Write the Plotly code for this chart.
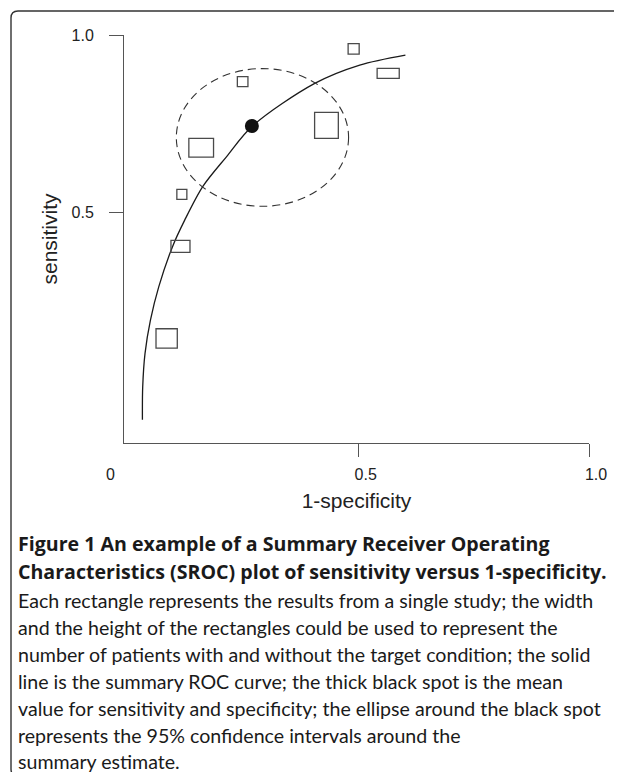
import plotly.graph_objects as go

# ---------------- data ----------------
# individual studies: centre (1-specificity, sensitivity) and box size
study_fpr = [0.489, 0.564, 0.248, 0.430, 0.158, 0.116, 0.113, 0.083]
study_sens = [0.961, 0.892, 0.869, 0.746, 0.683, 0.552, 0.406, 0.147]
study_w = [0.024, 0.048, 0.023, 0.0515, 0.0536, 0.0217, 0.0413, 0.0462]
study_h = [0.030, 0.028, 0.028, 0.0732, 0.0526, 0.0281, 0.0338, 0.0543]

# summary ROC curve
sroc_fpr = [0.0304, 0.0310, 0.0360, 0.0478, 0.0658, 0.0955, 0.1222, 0.1620,
            0.2128, 0.2692, 0.4045, 0.5022, 0.6014]
sroc_sens = [-0.0813, 0.0104, 0.1044, 0.1981, 0.2918, 0.4043, 0.4795, 0.5751,
             0.6576, 0.7440, 0.8641, 0.9156, 0.9437]

# summary point and 95% confidence ellipse
mean_fpr = [0.268]
mean_sens = [0.744]
ell_center = [0.291, 0.712]
ell_semi = [0.187, 0.1936]

x_tickvals = [0.5, 1.0]
x_ticktext = ["0.5", "1.0"]
y_tickvals = [0.5, 1.0]
y_ticktext = ["0.5", "1.0"]

caption_bold = [
    "Figure 1 An example of a Summary Receiver Operating",
    "Characteristics (SROC) plot of sensitivity versus 1-specificity.",
]
caption_lines = [
    "Each rectangle represents the results from a single study; the width",
    "and the height of the rectangles could be used to represent the",
    "number of patients with and without the target condition; the solid",
    "line is the summary ROC curve; the thick black spot is the mean",
    "value for sensitivity and specificity; the ellipse around the black spot",
    "represents the 95% confidence intervals around the",
    "summary estimate.",
]

# ---------------- layout geometry ----------------
OFF = 8                      # page offset of the figure (body margin)
W, H = 622 - OFF, 772 - OFF  # figure size
L, R, T, B = 124 - OFF, 33, 35 - OFF, 329
PW, PH = W - L - R, H - T - B


def px(xp):
    """page pixel x -> paper coordinate"""
    return (xp - OFF - L) / PW


def py(yp):
    """page pixel y -> paper coordinate"""
    return (H - B - (yp - OFF)) / PH


AX = "#555555"
TXT = "#222222"
SANS = "Liberation Sans, Arial, sans-serif"
TICKFONT = dict(family=SANS, size=16, color=TXT)
CAPFONT = "Lato, Noto Sans, sans-serif"
BOLDFONT = "Open Sans, Noto Sans, sans-serif"

fig = go.Figure()

# SROC curve
fig.add_trace(go.Scatter(
    x=sroc_fpr, y=sroc_sens, mode="lines",
    line=dict(color="#1a1a1a", width=1.3, shape="spline", smoothing=0.9),
    hoverinfo="skip", showlegend=False,
))

# summary point
fig.add_trace(go.Scatter(
    x=mean_fpr, y=mean_sens, mode="markers",
    marker=dict(size=14, color="#111111", line=dict(width=0)),
    showlegend=False,
))

shapes = []
# study rectangles
for cx, cy, w, h in zip(study_fpr, study_sens, study_w, study_h):
    shapes.append(dict(
        type="rect", xref="x", yref="y",
        x0=cx - w / 2, x1=cx + w / 2, y0=cy - h / 2, y1=cy + h / 2,
        line=dict(color="#4a4a4a", width=1.3), fillcolor="rgba(0,0,0,0)",
    ))

# confidence ellipse
shapes.append(dict(
    type="circle", xref="x", yref="y",
    x0=ell_center[0] - ell_semi[0], x1=ell_center[0] + ell_semi[0],
    y0=ell_center[1] - ell_semi[1], y1=ell_center[1] + ell_semi[1],
    line=dict(color="#333333", width=1.1, dash="8px,5px"),
))

# outer frame (rounded left corners, open to the right and bottom)
r = 7
xl, yt, yb, xr = 11, 11, 776, 640
path = (
    f"M {px(xr)},{py(yt)} L {px(xl + r)},{py(yt)} "
    f"Q {px(xl)},{py(yt)} {px(xl)},{py(yt + r)} "
    f"L {px(xl)},{py(yb - r)} "
    f"Q {px(xl)},{py(yb)} {px(xl + r)},{py(yb)}"
)
shapes.append(dict(type="path", xref="paper", yref="paper", path=path,
                   line=dict(color="#333333", width=1.4)))

annotations = []
# "0" label at the origin corner
annotations.append(dict(
    x=px(110), y=py(474), xref="paper", yref="paper", text="0",
    showarrow=False, font=TICKFONT, xanchor="center", yanchor="middle",
))

# caption lines
cap_y_bold = [543, 571]
cap_y = [600, 627, 654, 681, 708, 735, 761]
for txt, yy in zip(caption_bold, cap_y_bold):
    annotations.append(dict(
        x=px(16), y=py(yy), xref="paper", yref="paper",
        text=f"<b>{txt}</b>", showarrow=False,
        font=dict(family=BOLDFONT, size=19.6, color="#1a1a1a"),
        xanchor="left", yanchor="middle",
    ))
for txt, yy in zip(caption_lines, cap_y):
    annotations.append(dict(
        x=px(16), y=py(yy), xref="paper", yref="paper",
        text=txt, showarrow=False,
        font=dict(family=CAPFONT, size=19.6, color="#1a1a1a"),
        xanchor="left", yanchor="middle",
    ))

fig.update_layout(
    width=W, height=H,
    margin=dict(l=L, r=R, t=T, b=B, autoexpand=False),
    paper_bgcolor="white", plot_bgcolor="white",
    showlegend=False,
    shapes=shapes, annotations=annotations,
    xaxis=dict(
        range=[-0.0096, 1.0], showgrid=False, zeroline=False,
        showline=True, linecolor=AX, linewidth=1,
        tickmode="array", tickvals=x_tickvals, ticktext=x_ticktext,
        ticks="outside", ticklen=13, tickcolor=AX, tickwidth=1,
        tickfont=TICKFONT, ticklabelshift=7, ticklabelstandoff=4,
        title=dict(text="1-specificity", standoff=11,
                   font=dict(family=SANS, size=21, color=TXT)),
        automargin=False,
    ),
    yaxis=dict(
        range=[-0.147, 1.0], showgrid=False, zeroline=False,
        showline=True, linecolor=AX, linewidth=1,
        tickmode="array", tickvals=y_tickvals, ticktext=y_ticktext,
        ticks="outside", ticklen=14, tickcolor=AX, tickwidth=1,
        tickfont=TICKFONT, ticklabelstandoff=12,
        title=dict(text="sensitivity", standoff=8,
                   font=dict(family=SANS, size=21, color=TXT)),
        automargin=False,
    ),
)

fig.write_html("out.html")
